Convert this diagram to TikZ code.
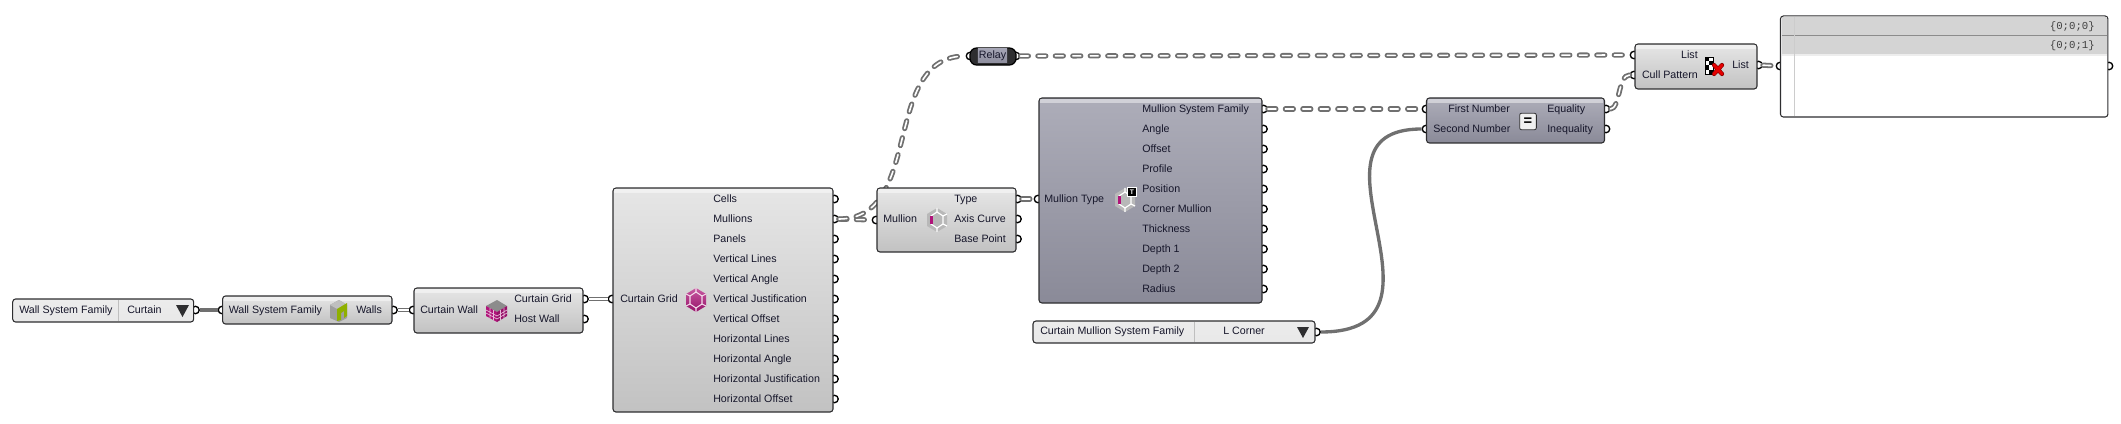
\documentclass[tikz,border=0pt]{standalone}
\usepackage{fontspec}
\setmainfont{Liberation Sans}
\newfontfamily\panelfont{Liberation Mono}
\definecolor{edge}{HTML}{2E2E30}
\definecolor{wire}{HTML}{707070}
\definecolor{ink}{HTML}{16162A}
\definecolor{magent}{HTML}{B0147A}
\definecolor{door}{HTML}{8FB000}
\definecolor{comptop}{HTML}{E6E6E6}
\definecolor{compbot}{HTML}{C2C2C2}
\definecolor{greytop}{HTML}{ADADB9}
\definecolor{greybot}{HTML}{8A8A98}
\definecolor{listtop}{HTML}{ECECEC}
\definecolor{listmid}{HTML}{C4C4C4}
\definecolor{listbot}{HTML}{E8E8E8}
\definecolor{relaytop}{HTML}{A4A4B4}
\definecolor{relaybot}{HTML}{8E8E9E}
\tikzset{
  comp/.style 2 args={draw=edge,line width=.8pt,rounded corners=2.2pt,inner sep=0pt,outer sep=0pt,
    minimum width=#1*0.75pt,minimum height=#2*0.75pt,top color=comptop,bottom color=compbot},
  greycomp/.style={top color=greytop,bottom color=greybot},
  listcomp/.style={top color=listtop,middle color=listmid,bottom color=listbot},
  port/.style={circle,draw=black,fill=white,line width=1pt,inner sep=0pt,minimum size=5.6pt},
  lbl/.style={anchor=west,inner sep=0pt,text=ink,font=\fontsize{8}{9}\selectfont,text height=5.7pt,text depth=0pt},
  wsolid/.style={draw=wire,line width=2.5pt},
  wlist/.style={draw=wire,line width=1.2pt,double=white,double distance=1pt},
  wtree/.style={draw=wire,line width=1.35pt,double=white,double distance=1.2pt,line cap=round,dash pattern=on 6pt off 7.1pt},
}
\newcommand{\hexshape}[2]{(#1-10,#2-6) -- (#1,#2-12) -- (#1+10,#2-6) -- (#1+10,#2+6) -- (#1,#2+12) -- (#1-10,#2+6) -- cycle}
\newcommand{\mullionicon}[2]{
  \fill[black!28] \hexshape{#1}{#2};
  \draw[white,line width=.9pt] (#1-6,#2-4) -- (#1,#2-8) -- (#1+6,#2-4) -- (#1+6,#2+4) -- (#1,#2+8) -- (#1-6,#2+4) -- cycle;
  \draw[white,line width=.9pt] (#1,#2-12) -- (#1,#2-8) (#1,#2+12) -- (#1,#2+8) (#1+10,#2-6) -- (#1+6,#2-4) (#1+10,#2+6) -- (#1+6,#2+4);
  \fill[magent] (#1-7,#2-4) rectangle (#1-4,#2+4);
}
\begin{document}
\begin{tikzpicture}[x=0.75pt,y=-0.75pt]
  \useasboundingbox (0,0) rectangle (2121,424);

  \node[port] (listout) at (195.5,310) {};
  \node[port] (wallin) at (222,310) {};
  \node[port] (wallout) at (393.5,310) {};
  \node[port] (cwallin) at (413,310) {};
  \node[port] (cwallgrid) at (584.5,299) {};
  \node[port] (cwallhost) at (584.5,319) {};
  \node[port] (gridin) at (612,299) {};
  \foreach \i in {1,...,11}
    \node[port] (gridout\i) at (834.5,179+\i*20) {};
  \node[port] (mullin) at (876,220) {};
  \foreach \i in {1,2,3}
    \node[port] (mullout\i) at (1017.5,179+\i*20) {};
  \node[port] (typein) at (1038,199) {};
  \foreach \i in {1,...,10}
    \node[port] (typeout\i) at (1263.5,89+\i*20) {};
  \node[port] (relayin) at (970,56) {};
  \node[port] (relayout) at (1016,56) {};
  \node[port] (eqfirst) at (1426,109) {};
  \node[port] (eqsecond) at (1426,129) {};
  \node[port] (eqout) at (1606,109) {};
  \node[port] (neqout) at (1606,129) {};
  \node[port] (culllist) at (1634,55) {};
  \node[port] (cullpat) at (1634,75) {};
  \node[port] (cullout) at (1758.5,65) {};
  \node[port] (panelin) at (1780,66) {};
  \node[port] (panelout) at (2109,66) {};
  \node[port] (cornerout) at (1316.5,332) {};

  \draw[wsolid] (listout) -- (wallin);
  \draw[wlist] (wallout) -- (cwallin);
  \draw[wlist] (cwallgrid) -- (gridin);
  \draw[wtree] (gridout2) -- (mullin);
  \draw[wtree] (gridout2.east) .. controls (925,219) and (880,56) .. (relayin.west);
  \draw[wtree] (relayout) -- (culllist);
  \draw[wtree] (mullout1) -- (typein);
  \draw[wtree] (typeout1) -- (eqfirst);
  \draw[wtree] (eqout.east) .. controls (1620,109) and (1618,75) .. (cullpat.west);
  \draw[wtree] (cullout) -- (panelin);
  \draw[wsolid] (cornerout.east) .. controls (1468,332) and (1290,129) .. (eqsecond.west);

  \node[comp={181}{23},listcomp] (syslist) at (103.2,310.5) {};
  \node[comp={169.4}{28}] (wall) at (307.3,310) {};
  \node[comp={169}{45}] (cwall) at (498.5,310.5) {};
  \node[comp={220}{224}] (grid) at (723,300) {};
  \node[comp={139}{64}] (mull) at (946.5,220) {};
  \node[comp={223}{205},greycomp] (mtype) at (1150.5,200.5) {};
  \node[comp={282}{22},listcomp] (cornerlist) at (1174,332) {};
  \node[comp={178}{45},greycomp] (eq) at (1515.5,120.5) {};
  \node[comp={122}{45}] (cull) at (1696,66.5) {};
  \node[draw=black,line width=.9pt,rounded corners=5pt,minimum width=34.5pt,minimum height=12.8pt,inner sep=0pt,fill=edge] (relay) at (993,56.5) {};
  \node[minimum width=22pt,minimum height=10.5pt,inner sep=0pt,top color=relaytop,bottom color=relaybot,text=ink,font=\fontsize{8}{9}\selectfont] (relaytag) at (992.5,56) {Relay};

  \foreach \c in {wall,cwall,grid,mull,mtype,eq,cull}
    \fill[white,opacity=.45] ([xshift=1pt,yshift=-.6pt]\c.north west) rectangle ([xshift=-1pt,yshift=-3.4pt]\c.north east);

  \draw[white!75!black] (118.6,300) -- (118.6,321);
  \draw[white!75!black] (1194,322) -- (1194,342);
  \fill[edge] (176,305) -- (189,305) -- (182.5,317) -- cycle;
  \fill[edge] (1297,327) -- (1309,327) -- (1303,338) -- cycle;

  % value lists
  \node[lbl] (syslabel) at (19,309.5) {Wall System Family};
  \node[lbl] (sysvalue) at (127,309.5) {Curtain};
  \node[lbl] (cornerlabel) at (1040,331) {Curtain Mullion System Family};
  \node[lbl] (cornervalue) at (1223,331) {L Corner};

  \node[lbl] (walllabel) at (228.5,310) {Wall System Family};
  \node[lbl] (walloutlabel) at (356,310) {Walls};
  \node[lbl] (cwalllabel) at (420,310) {Curtain Wall};
  \node[lbl] (cwallgl) at (514,299) {Curtain Grid};
  \node[lbl] (cwallhl) at (514,319) {Host Wall};
  \node[lbl] (gridlabel) at (620,299) {Curtain Grid};
  \foreach \t [count=\i] in {Cells,Mullions,Panels,Vertical Lines,Vertical Angle,Vertical Justification,Vertical Offset,Horizontal Lines,Horizontal Angle,Horizontal Justification,Horizontal Offset}
    \node[lbl] (gridl\i) at (713,179+\i*20) {\t};
  \node[lbl] (mulllabel) at (883,219) {Mullion};
  \foreach \t [count=\i] in {Type,Axis Curve,Base Point}
    \node[lbl] (mulll\i) at (954,179+\i*20) {\t};
  \node[lbl] (typelabel) at (1044,199) {Mullion Type};
  \foreach \t [count=\i] in {Mullion System Family,Angle,Offset,Profile,Position,Corner Mullion,Thickness,Depth 1,Depth 2,Radius}
    \node[lbl] (typel\i) at (1142,89+\i*20) {\t};
  \node[lbl] (firstlabel) at (1448,109) {First Number};
  \node[lbl] (secondlabel) at (1433,129) {Second Number};
  \node[lbl] (eqlabel) at (1547,109) {Equality};
  \node[lbl] (neqlabel) at (1547,129) {Inequality};
  \node[lbl,anchor=east] (listlabel) at (1698,55) {List};
  \node[lbl,anchor=east] (patlabel) at (1698,75) {Cull Pattern};
  \node[lbl] (culllabel) at (1732,65) {List};

  % icons
  \fill[black!38] (330,305) -- (339,300) -- (347,305) -- (347,318) -- (339,322) -- (330,318) -- cycle;
  \fill[black!25] (330,305) -- (339,300) -- (347,305) -- (339,310) -- cycle;
  \fill[door] (337,321) -- (337,309) -- (347,303) -- (347,316) -- (344,318) -- (344,311) -- (341,313) -- (341,320) -- cycle;

  \fill[black!45] (486,306) -- (497,300) -- (507,306) -- (497,312) -- cycle;
  \fill[magent] (486,306) -- (497,312) -- (497,322) -- (486,316) -- cycle;
  \fill[magent!85!black] (497,312) -- (507,306) -- (507,316) -- (497,322) -- cycle;
  \draw[white!70!magent,line width=.5pt] (490,308) -- (490,318) (493.5,310) -- (493.5,320) (500.5,310) -- (500.5,320) (504,308) -- (504,318)
    (486,310) -- (497,316) -- (507,310) (486,313) -- (497,319) -- (507,313);

  \shade[top color=magent!70!white,bottom color=magent!85!black] \hexshape{696}{300};
  \draw[white!85!magent,line width=.8pt] (690,296) -- (696,292) -- (702,296) -- (702,304) -- (696,308) -- (690,304) -- cycle;
  \draw[white!85!magent,line width=.8pt] (696,288) -- (696,292) (696,312) -- (696,308) (686,294) -- (690,296) (706,294) -- (702,296) (686,306) -- (690,304) (706,306) -- (702,304);

  \mullionicon{937}{220}
  \mullionicon{1125}{200}
  \node[draw=white,fill=black,text=white,inner sep=0pt,line width=.5pt,minimum size=6.5pt,font=\bfseries\fontsize{5}{5}\selectfont] (badge) at (1132,192) {T};

  \node[draw=edge,fill=black!6,rounded corners=1.5pt,line width=.6pt,inner sep=0pt,minimum size=12.5pt,font=\bfseries\fontsize{11}{11}\selectfont] (eqsign) at (1528,121.5) {=};

  \foreach \r in {0,...,3}
    \foreach \s in {0,1} {
      \pgfmathsetmacro{\shadeval}{mod(\r+\s,2)==0 ? 100 : 0}
      \fill[black!\shadeval] (1705+\s*4.25,57+\r*4.25) rectangle (1709.25+\s*4.25,61.25+\r*4.25);
    }
  \draw[black,line width=.5pt] (1705,57) rectangle (1713.5,74);
  \draw[red!55!black,line width=3.2pt,line cap=round] (1714,65) -- (1722,74) (1722,65) -- (1714,74);
  \draw[red!90!black,line width=2.2pt,line cap=round] (1714,65) -- (1722,74) (1722,65) -- (1714,74);

  % panel
  \node[draw=edge,fill=white,line width=.8pt,rounded corners=2.2pt,inner sep=0pt,minimum width=245.6pt,minimum height=75.8pt] (panel) at (1944.2,66.5) {};
  \fill[black!17] (1782,17) rectangle (2107,54);
  \fill[black!7] (1782,54) rectangle (2107,56);
  \draw[black!45] (1782,35.5) -- (2107,35.5);
  \draw[black!20] (1794.5,17) -- (1794.5,116);
  \node[anchor=east,inner sep=0pt,text=black!75,font=\panelfont\fontsize{8}{9}\selectfont] (row1) at (2095,27) {\{0;0;0\}};
  \node[anchor=east,inner sep=0pt,text=black!75,font=\panelfont\fontsize{8}{9}\selectfont] (row2) at (2095,46) {\{0;0;1\}};
\end{tikzpicture}
\end{document}
